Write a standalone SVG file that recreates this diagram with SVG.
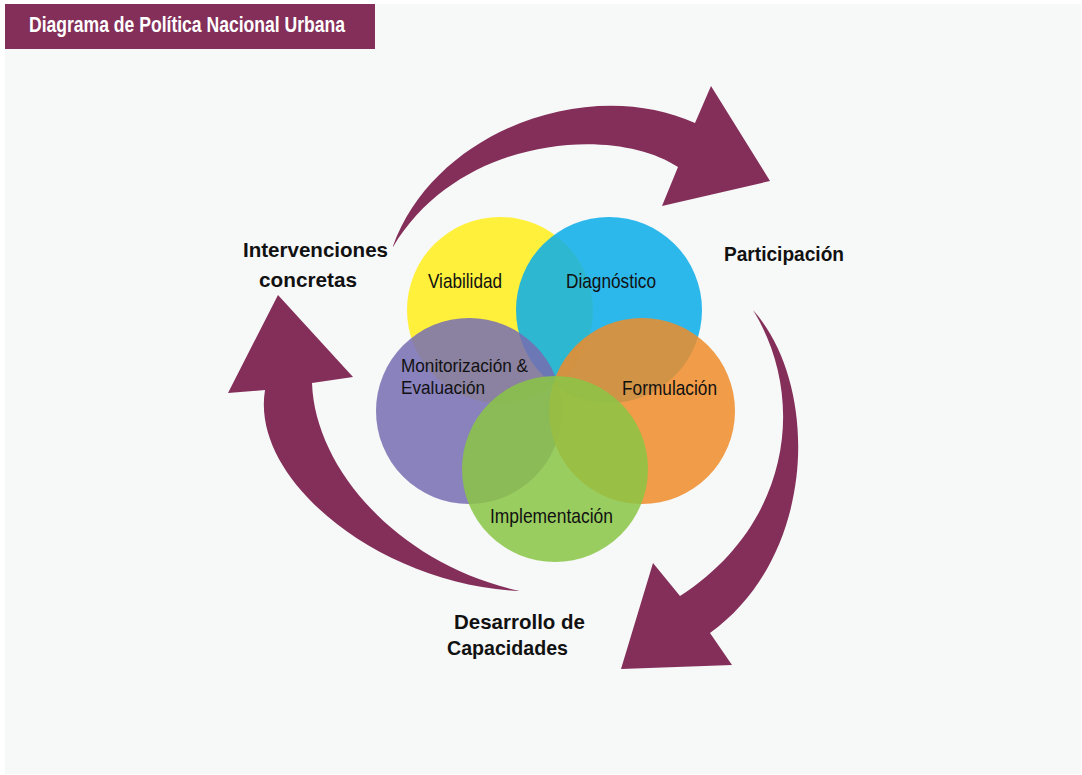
<svg xmlns="http://www.w3.org/2000/svg" width="1082" height="775" viewBox="0 0 1082 775">
<style>
.bg{fill:#F7F8F8}
.arrow{fill:#842F5A}
.circ{fill-opacity:0.85}
.lbl{font-family:"Liberation Sans",Arial,sans-serif;font-size:21px;fill:#111}
.sm{font-size:19px}
.big{font-family:"Liberation Sans",Arial,sans-serif;font-size:21px;font-weight:bold;fill:#111}
.title{font-family:"Liberation Sans",Arial,sans-serif;font-size:22px;font-weight:bold;fill:#fff}
</style>
<rect x="0" y="0" width="1082" height="775" fill="#ffffff"/>
<rect class="bg" x="5" y="4" width="1076" height="770"/>
<g id="title">
<rect x="5" y="4" width="370" height="45" fill="#832F59"/>
<text class="title" x="29" y="32" textLength="316" lengthAdjust="spacingAndGlyphs">Diagrama de Política Nacional Urbana</text>
</g>
<g id="connectors">
<path class="arrow" d="M393,246 C435,130 590,75 695,123 L711,86 L770,181 L662,206 L678,167 C615,125 460,135 393,247 Z"/>
<path class="arrow" d="M278,295 L353,377 L312,383 C315,470 400,565 520,591 C380,585 250,480 265,390 L228,393 Z"/>
<path class="arrow" d="M753,310 C820,385 818,555 710,633 L732,665 L621,669 L653,563 L680,596 C790,525 808,400 753,310 Z"/>
</g>
<g id="viabilidad">
<circle cx="500" cy="310" r="93" fill="#FFF03C"/>
</g>
<g id="diagnostico">
<circle class="circ" cx="609" cy="310" r="93" fill="#09ADEA"/>
</g>
<g id="monitorizacion">
<circle class="circ" cx="469" cy="411" r="93" fill="#776DB1"/>
</g>
<g id="formulacion">
<circle class="circ" cx="642" cy="411" r="93" fill="#EF8C29"/>
</g>
<g id="implementacion">
<circle class="circ" cx="555" cy="469" r="93" fill="#8AC545"/>
</g>
<g id="circle-labels">
<text class="lbl" x="428" y="288" textLength="74" lengthAdjust="spacingAndGlyphs">Viabilidad</text>
<text class="lbl" x="566" y="288" textLength="90" lengthAdjust="spacingAndGlyphs">Diagnóstico</text>
<text class="lbl sm" x="401" y="372" textLength="127" lengthAdjust="spacingAndGlyphs">Monitorización &amp;</text>
<text class="lbl sm" x="401" y="394" textLength="84" lengthAdjust="spacingAndGlyphs">Evaluación</text>
<text class="lbl" x="622" y="395" textLength="95" lengthAdjust="spacingAndGlyphs">Formulación</text>
<text class="lbl" x="490" y="523" textLength="123" lengthAdjust="spacingAndGlyphs">Implementación</text>
</g>
<g id="intervenciones">
<text class="big" x="243" y="257" textLength="145" lengthAdjust="spacingAndGlyphs">Intervenciones</text>
<text class="big" x="259" y="287" textLength="98" lengthAdjust="spacingAndGlyphs">concretas</text>
</g>
<g id="participacion">
<text class="big" x="724" y="261" textLength="120" lengthAdjust="spacingAndGlyphs">Participación</text>
</g>
<g id="desarrollo">
<text class="big" x="454" y="629" textLength="131" lengthAdjust="spacingAndGlyphs">Desarrollo de</text>
<text class="big" x="447" y="655" textLength="121" lengthAdjust="spacingAndGlyphs">Capacidades</text>
</g>
</svg>
